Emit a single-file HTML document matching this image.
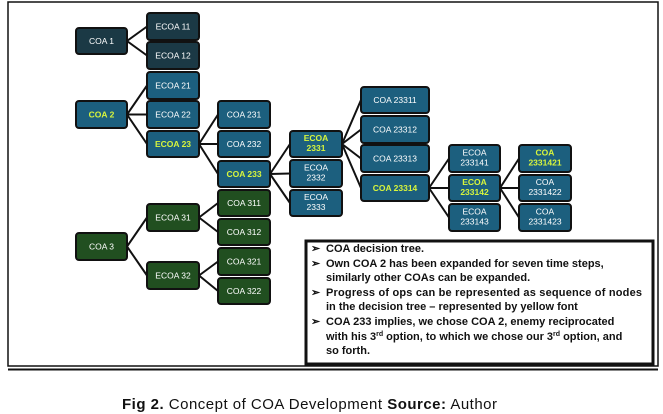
<!DOCTYPE html>
<html><head><meta charset="utf-8"><style>
html,body{margin:0;padding:0;background:#fff;}
svg{display:block;font-family:"Liberation Sans",Arial,sans-serif;}
.n text{font-size:8.5px;fill:#fff;text-anchor:middle;}
.y{fill:#d8f53c !important;font-weight:bold;}
.t{font-size:11px;font-weight:bold;fill:#111;}
</style></head><body>
<svg width="663" height="414" viewBox="0 0 663 414">
<rect x="8" y="2" width="650" height="364" fill="#fff" stroke="#111" stroke-width="1.5"/>
<line x1="8" y1="369.5" x2="658" y2="369.5" stroke="#111" stroke-width="2"/>
<g stroke="#111" stroke-width="2" fill="none">
<path d="M127 41L147 26.5M127 41L147 55.5"/>
<path d="M127 114.5L147 85.5M127 114.5L147 114.5M127 114.5L147 144"/>
<path d="M199 144L218 114.5M199 144L218 144M199 144L218 174"/>
<path d="M270 174L290 144M270 174L290 173.5M270 174L290 203"/>
<path d="M342 144L361 100M342 144L361 129.5M342 144L361 158.5M342 144L361 188"/>
<path d="M429 188L449 158.5M429 188L449 188M429 188L449 217.5"/>
<path d="M500 188L519 158.5M500 188L519 188M500 188L519 217.5"/>
<path d="M127 246.5L147 217.5M127 246.5L147 275.5"/>
<path d="M199 217.5L218 203M199 217.5L218 232M199 275.5L218 261.5M199 275.5L218 291"/>
</g>
<g class="n" stroke="#111" stroke-width="2">
<g fill="#1b3945"><rect x="76" y="28" width="51" height="26" rx="3"/><rect x="147" y="13" width="52" height="27" rx="3"/><rect x="147" y="42" width="52" height="27" rx="3"/></g>
<g fill="#1c5f7e">
<rect x="76" y="101" width="51" height="27" rx="3"/>
<rect x="147" y="72" width="52" height="27" rx="3"/><rect x="147" y="101" width="52" height="27" rx="3"/><rect x="147" y="131" width="52" height="26" rx="3"/>
<rect x="218" y="101" width="52" height="27" rx="3"/><rect x="218" y="131" width="52" height="26" rx="3"/><rect x="218" y="161" width="52" height="26" rx="3"/>
<rect x="290" y="131" width="52" height="26" rx="3"/><rect x="290" y="160" width="52" height="27" rx="3"/><rect x="290" y="190" width="52" height="26" rx="3"/>
<rect x="361" y="87" width="68" height="26" rx="3"/><rect x="361" y="116" width="68" height="27" rx="3"/><rect x="361" y="145" width="68" height="27" rx="3"/><rect x="361" y="175" width="68" height="26" rx="3"/>
<rect x="449" y="145" width="51" height="27" rx="3"/><rect x="449" y="175" width="51" height="26" rx="3"/><rect x="449" y="204" width="51" height="27" rx="3"/>
<rect x="519" y="145" width="52" height="27" rx="3"/><rect x="519" y="175" width="52" height="26" rx="3"/><rect x="519" y="204" width="52" height="27" rx="3"/>
</g>
<g fill="#214f20">
<rect x="76" y="233" width="51" height="27" rx="3"/>
<rect x="147" y="204" width="52" height="27" rx="3"/><rect x="147" y="262" width="52" height="27" rx="3"/>
<rect x="218" y="190" width="52" height="26" rx="3"/><rect x="218" y="219" width="52" height="26" rx="3"/><rect x="218" y="248" width="52" height="27" rx="3"/><rect x="218" y="278" width="52" height="26" rx="3"/>
</g>
</g>
<g class="n">
<text x="101.5" y="44">COA 1</text>
<text x="173" y="29.5">ECOA 11</text><text x="173" y="58.5">ECOA 12</text>
<text x="101.5" y="117.5" class="y">COA 2</text>
<text x="173" y="88.5">ECOA 21</text><text x="173" y="117.5">ECOA 22</text><text x="173" y="147" class="y">ECOA 23</text>
<text x="244" y="117.5">COA 231</text><text x="244" y="147">COA 232</text><text x="244" y="177" class="y">COA 233</text>
<text x="316" y="141" class="y">ECOA</text><text x="316" y="151" class="y">2331</text>
<text x="316" y="170.5">ECOA</text><text x="316" y="180.5">2332</text>
<text x="316" y="200">ECOA</text><text x="316" y="210">2333</text>
<text x="395" y="103">COA 23311</text><text x="395" y="132.5">COA 23312</text><text x="395" y="161.5">COA 23313</text><text x="395" y="191" class="y">COA 23314</text>
<text x="474.5" y="155.5">ECOA</text><text x="474.5" y="165.5">233141</text>
<text x="474.5" y="185" class="y">ECOA</text><text x="474.5" y="195" class="y">233142</text>
<text x="474.5" y="214.5">ECOA</text><text x="474.5" y="224.5">233143</text>
<text x="545" y="155.5" class="y">COA</text><text x="545" y="165.5" class="y">2331421</text>
<text x="545" y="185">COA</text><text x="545" y="195">2331422</text>
<text x="545" y="214.5">COA</text><text x="545" y="224.5">2331423</text>
<text x="101.5" y="249.5">COA 3</text>
<text x="173" y="220.5">ECOA 31</text><text x="173" y="278.5">ECOA 32</text>
<text x="244" y="206">COA 311</text><text x="244" y="235">COA 312</text><text x="244" y="264.5">COA 321</text><text x="244" y="294">COA 322</text>
</g>
<rect x="306" y="241" width="347" height="123" fill="#fff" stroke="#111" stroke-width="3"/>
<g class="t">
<text x="311" y="252">➢</text><text x="326" y="252">COA decision tree.</text>
<text x="311" y="267">➢</text><text x="326" y="267">Own COA 2 has been expanded for seven time steps,</text>
<text x="326" y="281">similarly other COAs can be expanded.</text>
<text x="311" y="296">➢</text><text x="326" y="296" textLength="316">Progress of ops can be represented as sequence of nodes</text>
<text x="326" y="310">in the decision tree – represented by yellow font</text>
<text x="311" y="325">➢</text><text x="326" y="325">COA 233 implies, we chose COA 2, enemy reciprocated</text>
<text x="326" y="340">with his 3<tspan font-size="7" dy="-4">rd</tspan><tspan dy="4"> option, to which we chose our 3</tspan><tspan font-size="7" dy="-4">rd</tspan><tspan dy="4"> option, and</tspan></text>
<text x="326" y="354">so forth.</text>
</g>
<text x="122" y="409" font-size="15" fill="#111" textLength="375" lengthAdjust="spacing"><tspan font-weight="bold">Fig 2.</tspan> Concept of COA Development <tspan font-weight="bold">Source:</tspan> Author</text>
</svg>
</body></html>
